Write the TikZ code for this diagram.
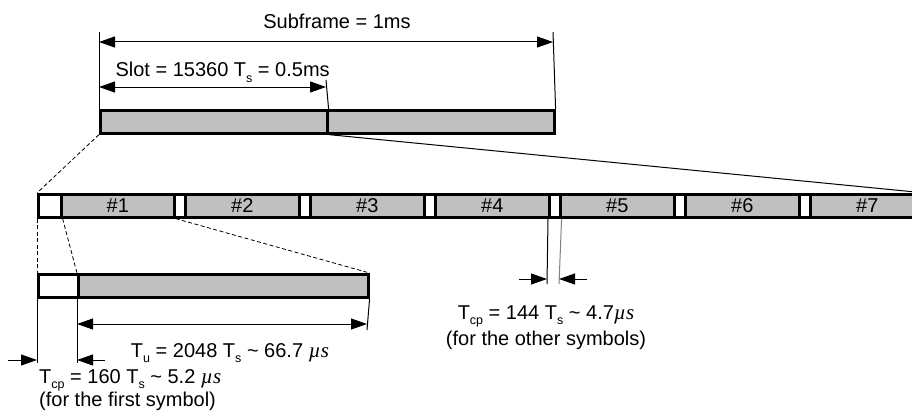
\documentclass[tikz,border=0pt]{standalone}
\usepackage{fontspec}
\setmainfont{Liberation Sans}
\newfontfamily\muserif{Liberation Serif}
\usetikzlibrary{arrows.meta,positioning}
\definecolor{symgray}{HTML}{C0C0C0}

% lowered subscript and italic micro-second
\newcommand\lowsub[1]{\raisebox{-0.5ex}{\fontsize{12.5}{12.5}\selectfont #1}}
\newcommand\musec{{\muserif\itshape\fontsize{21}{22}\selectfont µs}}

\begin{document}
\begin{tikzpicture}[x=1pt, y=-1pt,
  every node/.style={font=\fontsize{20}{20}\selectfont},
  box/.style={draw, line width=2.6pt, inner sep=0pt, anchor=north west, minimum height=23pt},
  cpbox/.style={box, fill=white},
  symbox/.style={box, fill=symgray},
  ext/.style={line width=1pt},
  dim/.style={line width=1pt, {Triangle[length=16pt,width=11pt]}-{Triangle[length=16pt,width=11pt]}},
  dimend/.style={line width=1pt, -{Triangle[length=16pt,width=11pt]}},
  zoomline/.style={line width=0.8pt, dash pattern=on 4pt off 2.5pt}]

\clip (0,0) rectangle (912,412);

% =================== subframe: two slots ===================
\node[symbox, minimum width=227pt] (sl1) at (99,109) {};
\node[symbox, minimum width=227pt] (sl2) at (326,109) {};

% =================== one slot: 7 symbols ===================
\node[cpbox, minimum width=23pt] (cp1) at (37,193) {};
\node[symbox, minimum width=113pt] (s1) at (60,193) {\#1};
\foreach \i in {2,...,7}{
  \pgfmathsetmacro\xx{173+(\i-2)*125}
  \node[cpbox, minimum width=11pt] (cp\i) at (\xx,193) {};
  \node[symbox, minimum width=114pt] (s\i) at (\xx+11,193) {\#\i};
}

% =================== first symbol, zoomed ===================
\node[cpbox, minimum width=40pt] (zcp) at (37,273) {};
\node[symbox, minimum width=290pt] (zs) at (77,273) {};

% zoom lines
\draw[ext] (sl1.south east) -- (s7.north east);
\draw[zoomline] (sl1.south west) -- (cp1.north west);
\draw[zoomline] (cp1.south west) -- (zcp.north west);
\draw[zoomline] (cp1.south east) -- (zs.north west);
\draw[zoomline] (s1.south east) -- (zs.north east);

% subframe length
\coordinate (sft1) at (99,32);
\coordinate (sft2) at (553,32);
\draw[ext] (sft1) -- (sl1.north west);
\draw[ext] (sft2) -- (sl2.north east);
\coordinate (sfa) at (99,42);
\coordinate (sfb) at (553,42);
\draw[dim] (sfa) -- (sfb);
\node[anchor=base] (sflabel) at (337,29) {Subframe = 1ms};

% slot length
\coordinate (slt) at (326,80);
\draw[ext] (slt) -- (sl1.north east);
\coordinate (sla) at (99,87);
\coordinate (slb) at (326,87);
\draw[dim] (sla) -- (slb);
\node[anchor=base west] (sllabel) at (112,77) {Slot = 15360 T\lowsub{s} = 0.5ms};

% useful part of the symbol
\coordinate (zb1) at (37,363);
\coordinate (zb2) at (77,363);
\coordinate (zb3) at (367,330);
\draw[ext] (zcp.south west) -- (zb1);
\draw[ext] (zs.south west) -- (zb2);
\draw[ext] (zs.south east) -- (zb3);
\coordinate (tua) at (77,324);
\coordinate (tub) at (367,324);
\draw[dim] (tua) -- (tub);
\node[anchor=base] (tulabel) at (230,357) {T\lowsub{u} = 2048 T\lowsub{s} \textasciitilde{} 66.7 \musec};

% first cyclic prefix
\coordinate (cpa0) at (8,360);
\coordinate (cpa1) at (37,360);
\coordinate (cpb0) at (105,360);
\coordinate (cpb1) at (77,360);
\draw[dimend] (cpa0) -- (cpa1);
\draw[dimend] (cpb0) -- (cpb1);
\node[anchor=base west, align=left, inner sep=0pt] (cpflabel) at (39,406)
  {T\lowsub{cp} = 160 T\lowsub{s} \textasciitilde{} 5.2 \musec\\[-1pt] (for the first symbol)};

% other cyclic prefixes
\coordinate (ct1) at (547,284);
\coordinate (ct2) at (559,284);
\draw[ext] (cp5.south west) -- (ct1);
\draw[ext, gray] (cp5.south east) -- (ct2);
\coordinate (coa0) at (519,279);
\coordinate (coa1) at (547,279);
\coordinate (cob0) at (587,279);
\coordinate (cob1) at (559,279);
\draw[dimend] (coa0) -- (coa1);
\draw[dimend] (cob0) -- (cob1);
\node[anchor=base, align=center, inner sep=0pt] (cpolabel) at (546,345)
  {T\lowsub{cp} = 144 T\lowsub{s} \textasciitilde{} 4.7\musec\\[2pt] (for the other symbols)};

\end{tikzpicture}
\end{document}
